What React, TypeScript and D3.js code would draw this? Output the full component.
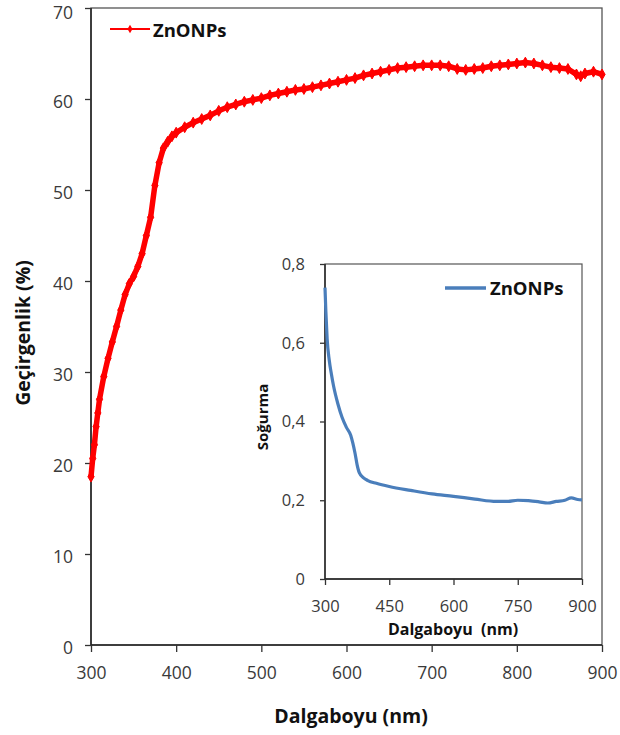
import React, { useEffect, useRef } from "react";
import * as d3 from "d3";

const W = 620;
const H = 735;

// ana grafik: geçirgenlik (%)
const transNm = [300, 302, 304, 306, 308, 310, 315, 320, 325, 330, 335, 340, 345, 350, 355, 360, 365, 370, 375, 380, 385, 390, 395, 400, 410, 420, 430, 440, 450, 460, 470, 480, 490, 500, 510, 520, 530, 540, 550, 560, 570, 580, 590, 600, 610, 620, 630, 640, 650, 660, 670, 680, 690, 700, 710, 720, 730, 740, 750, 760, 770, 780, 790, 800, 810, 820, 830, 840, 850, 860, 870, 875, 880, 890, 900];
const transVal = [18.5, 20.5, 22, 24, 25.5, 27, 29.5, 31.5, 33.3, 35, 36.8, 38.5, 39.7, 40.5, 41.6, 43, 45, 47, 50.5, 53, 54.6, 55.3, 55.9, 56.3, 56.9, 57.4, 57.8, 58.2, 58.7, 59.1, 59.4, 59.7, 59.9, 60.1, 60.4, 60.6, 60.8, 61.0, 61.1, 61.3, 61.5, 61.7, 61.9, 62.1, 62.3, 62.6, 62.8, 63.0, 63.2, 63.4, 63.5, 63.6, 63.7, 63.7, 63.7, 63.6, 63.3, 63.2, 63.3, 63.4, 63.6, 63.7, 63.8, 63.9, 64.0, 63.9, 63.7, 63.5, 63.4, 63.3, 62.7, 62.5, 62.8, 63.0, 62.7];
const mainYTicks = [0, 10, 20, 30, 40, 50, 60, 70];
const mainXTicks = [300, 400, 500, 600, 700, 800, 900];

// iç grafik: soğurma
const absNm = [300, 302, 305, 310, 315, 320, 330, 340, 350, 360, 365, 370, 375, 380, 390, 400, 420, 450, 500, 550, 600, 650, 700, 725, 750, 775, 800, 820, 840, 860, 875, 890, 900];
const absVal = [0.74, 0.68, 0.61, 0.555, 0.52, 0.49, 0.445, 0.41, 0.385, 0.365, 0.345, 0.32, 0.29, 0.27, 0.257, 0.25, 0.243, 0.235, 0.225, 0.216, 0.21, 0.203, 0.197, 0.197, 0.2, 0.199, 0.196, 0.193, 0.197, 0.2, 0.206, 0.202, 0.201];
const insetYTicks = [0, 0.2, 0.4, 0.6, 0.8];
const insetXTicks = [300, 450, 600, 750, 900];

const seriesName = "ZnONPs";

const x = d3.scaleLinear().domain([300, 900]).range([91, 602]);
const y = d3.scaleLinear().domain([0, 70]).range([645, 8]);
const ix = d3.scaleLinear().domain([300, 900]).range([325, 582]);
const iy = d3.scaleLinear().domain([0, 0.8]).range([579, 264]);

const font = "'Open Sans', sans-serif";
const tickColor = "#3a3a3a";

export default function App() {
  const xAxisRef = useRef<SVGGElement>(null);
  const yAxisRef = useRef<SVGGElement>(null);
  const ixAxisRef = useRef<SVGGElement>(null);
  const iyAxisRef = useRef<SVGGElement>(null);

  useEffect(() => {
    const style = (sel: any, size: number) => {
      sel.select(".domain").remove();
      sel.selectAll(".tick line").attr("stroke", "#333").attr("stroke-width", 1.3);
      sel.selectAll(".tick text")
        .attr("font-family", font)
        .attr("font-size", size)
        .attr("fill", tickColor);
    };
    const comma = (d: any) => (d === 0 ? "0" : d3.format(".1f")(d).replace(".", ","));

    const xa = d3.select(xAxisRef.current!);
    xa.call(d3.axisBottom(x).tickValues(mainXTicks).tickSize(7).tickPadding(15));
    style(xa, 17.5);
    const ya = d3.select(yAxisRef.current!);
    ya.call(d3.axisLeft(y).tickValues(mainYTicks).tickSize(6).tickPadding(12));
    style(ya, 17.5);
    // üstteki 70 etiketi kenarda kesilmesin
    ya.selectAll(".tick text").attr("dy", (d: any) => (d === 70 ? "0.62em" : "0.46em"));
    const ixa = d3.select(ixAxisRef.current!);
    ixa.call(d3.axisBottom(ix).tickValues(insetXTicks).tickSize(6).tickPadding(15));
    style(ixa, 16.5);
    const iya = d3.select(iyAxisRef.current!);
    iya.call(d3.axisLeft(iy).tickValues(insetYTicks).tickFormat(comma).tickSize(5).tickPadding(15));
    style(iya, 16.5);
  }, []);

  const mainData = transNm.map((d, i) => [d, transVal[i]] as [number, number]);
  const insetData = absNm.map((d, i) => [d, absVal[i]] as [number, number]);

  const mainLine = d3.line<[number, number]>().x((d) => x(d[0])).y((d) => y(d[1]));
  const insetLine = d3.line<[number, number]>()
    .x((d) => ix(d[0]))
    .y((d) => iy(d[1]))
    .curve(d3.curveMonotoneX);
  const diamond = d3.symbol().type(d3.symbolDiamond).size(34)()!;
  const legendDiamond = d3.symbol().type(d3.symbolDiamond).size(22)()!;

  return (
    <svg width={W} height={H} style={{ position: "absolute", left: 0, top: 0, background: "#fff" }}>
      {/* ana grafik çerçevesi */}
      <rect x={91} y={8} width={511} height={637} fill="none" stroke="#555" strokeWidth={1.3} />
      <line x1={91} y1={8} x2={91} y2={645} stroke="#222" strokeWidth={1.5} />
      <line x1={91} y1={645} x2={602} y2={645} stroke="#222" strokeWidth={1.5} />
      <g ref={xAxisRef} transform="translate(0,645)" />
      <g ref={yAxisRef} transform="translate(91,0)" />

      <path d={mainLine(mainData)!} fill="none" stroke="#ff0000" strokeWidth={5.5} strokeLinejoin="round" />
      {mainData.map((d, i) => (
        <path key={i} d={diamond} transform={`translate(${x(d[0])},${y(d[1])})`} fill="#ff0000" stroke="#ff0000" />
      ))}

      {/* legend */}
      <line x1={110} y1={29} x2={150} y2={29} stroke="#ff0000" strokeWidth={2} />
      <path d={legendDiamond} transform="translate(130,29)" fill="#ff0000" />
      <text x={153} y={37} fontFamily={font} fontWeight="bold" fontSize={18.5} fill="#111">{seriesName}</text>

      <text x={351} y={723} textAnchor="middle" fontFamily={font} fontWeight="bold" fontSize={19.5} fill="#111">Dalgaboyu (nm)</text>
      <text transform="translate(30,333) rotate(-90)" textAnchor="middle" fontFamily={font} fontWeight="bold" fontSize={19.5} fill="#111">Geçirgenlik (%)</text>

      {/* iç grafik */}
      <rect x={325} y={264} width={257} height={315} fill="#fff" stroke="#555" strokeWidth={1.2} />
      <line x1={325} y1={264} x2={325} y2={579} stroke="#222" strokeWidth={1.4} />
      <line x1={325} y1={579} x2={582} y2={579} stroke="#222" strokeWidth={1.4} />
      <g ref={ixAxisRef} transform="translate(0,579)" />
      <g ref={iyAxisRef} transform="translate(325,0)" />
      <path d={insetLine(insetData)!} fill="none" stroke="#4a7ebb" strokeWidth={3.2} strokeLinejoin="round" />

      <line x1={445} y1={288} x2={486} y2={288} stroke="#4a7ebb" strokeWidth={3.5} />
      <text x={490} y={295} fontFamily={font} fontWeight="bold" fontSize={18.5} fill="#111">{seriesName}</text>

      <text x={453} y={635} textAnchor="middle" fontFamily={font} fontWeight="bold" fontSize={16} fill="#111" style={{ whiteSpace: "pre" }}>Dalgaboyu  (nm)</text>
      <text transform="translate(268,417) rotate(-90)" textAnchor="middle" fontFamily={font} fontWeight="bold" fontSize={15} fill="#111">Soğurma</text>
    </svg>
  );
}
